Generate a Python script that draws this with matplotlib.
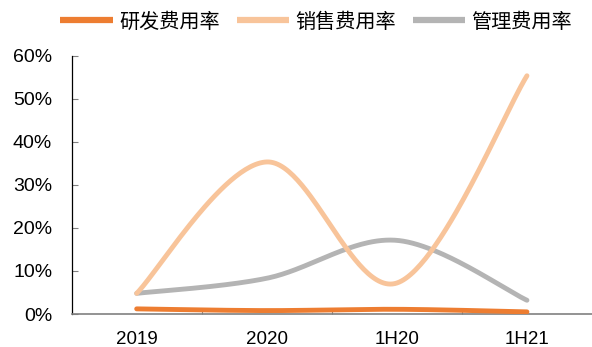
import numpy as np
import matplotlib
matplotlib.use("Agg")
import matplotlib.pyplot as plt
from matplotlib.ticker import PercentFormatter

plt.rcParams['font.family'] = ['Liberation Sans', 'Noto Sans CJK SC', 'DejaVu Sans']

categories = ["2019", "2020", "1H20", "1H21"]
rd_ratio = [1.2, 0.8, 1.1, 0.5]          # 研发费用率 (%)
sales_ratio = [4.8, 35.3, 7.2, 55.3]     # 销售费用率 (%)
admin_ratio = [4.8, 8.3, 17.1, 3.2]      # 管理费用率 (%)

series_names = ["研发费用率", "销售费用率", "管理费用率"]
series_colors = ["#ED7D31", "#F8C49A", "#B4B4B4"]


def smooth(xs, ys, n=60, tension=1 / 6):
    """Bezier smoothing through every point (spreadsheet-style smoothed line)."""
    xs = np.asarray(xs, float)
    ys = np.asarray(ys, float)
    px = np.concatenate([[xs[0]], xs, [xs[-1]]])
    py = np.concatenate([[ys[0]], ys, [ys[-1]]])
    out_x, out_y = [], []
    t = np.linspace(0, 1, n)
    for i in range(1, len(xs)):
        p0 = np.array([px[i], py[i]])
        p3 = np.array([px[i + 1], py[i + 1]])
        c1 = p0 + (np.array([px[i + 1], py[i + 1]]) - np.array([px[i - 1], py[i - 1]])) * tension
        c2 = p3 - (np.array([px[i + 2], py[i + 2]]) - np.array([px[i], py[i]])) * tension
        b = ((1 - t) ** 3)[:, None] * p0 + (3 * (1 - t) ** 2 * t)[:, None] * c1 \
            + (3 * (1 - t) * t ** 2)[:, None] * c2 + (t ** 3)[:, None] * p3
        out_x.extend(b[:, 0])
        out_y.extend(b[:, 1])
    return np.array(out_x), np.array(out_y)


fig = plt.figure(figsize=(5.92, 3.47), dpi=100)
ax = fig.add_axes([0.121, 0.095, 0.879, 0.745])

x = np.arange(len(categories))
draw_order = [2, 1, 0]
data = [rd_ratio, sales_ratio, admin_ratio]
handles = {}
for i in draw_order:
    sx, sy = smooth(x, data[i])
    line, = ax.plot(sx, sy, color=series_colors[i], lw=3.5,
                    solid_capstyle='round', label=series_names[i], zorder=3 + (2 - i))
    handles[i] = line

ax.set_xlim(-0.5, len(categories) - 0.5)
ax.set_ylim(0, 60)
ax.set_yticks(np.arange(0, 61, 10))
ax.yaxis.set_major_formatter(PercentFormatter(decimals=0))
ax.set_xticks(x)
ax.set_xticklabels(categories)
ax.set_xticks(np.arange(0.5, len(categories) - 0.5, 1), minor=True)

ax.tick_params(axis='y', direction='in', length=4.5, width=0.8, color='#808080',
               labelsize=14, pad=14)
ax.tick_params(axis='x', which='major', length=0, labelsize=13.5, pad=12)
ax.tick_params(axis='x', which='minor', direction='in', length=3, width=0.8, color='#808080')

for side in ['top', 'right']:
    ax.spines[side].set_visible(False)
ax.spines['left'].set_color('black')
ax.spines['left'].set_linewidth(0.9)
ax.spines['bottom'].set_color('#808080')
ax.spines['bottom'].set_linewidth(1.2)

leg = fig.legend([handles[0], handles[1], handles[2]], series_names,
                 loc='center', bbox_to_anchor=(0.534, 1 - 22 / 347), ncol=3,
                 frameon=False, handlelength=2.6, handletextpad=0.3, columnspacing=0.85,
                 borderpad=0, prop={'family': ['Noto Sans CJK SC'], 'size': 14.5})
for lh in leg.get_lines():
    lh.set_solid_capstyle('butt')
    lh.set_linewidth(4.5)

fig.savefig("out.png", dpi=100)
